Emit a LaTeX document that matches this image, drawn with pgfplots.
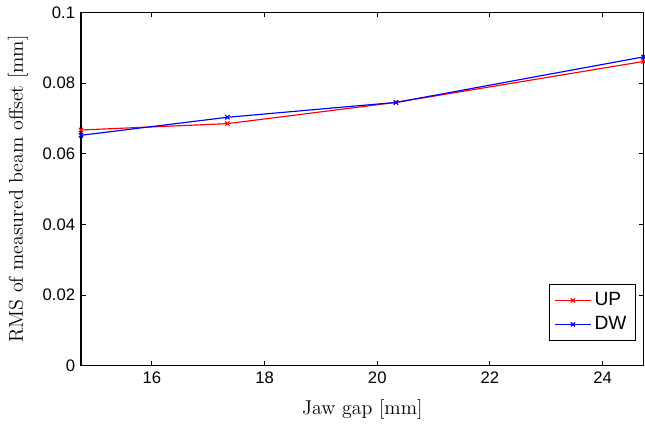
\documentclass[border=0pt]{standalone}
\usepackage{fontspec}
\usepackage{pgfplots}
\pgfplotsset{compat=1.18}
\newfontfamily\arial{Liberation Sans}
\begin{document}
\begin{tikzpicture}
\begin{axis}[
  scale only axis,
  width=337.6pt, height=212pt,
  xmin=14.74, xmax=24.73,
  ymin=0, ymax=0.1,
  xtick={16,18,20,22,24},
  ytick={0,0.02,0.04,0.06,0.08,0.1},
  scaled y ticks=false,
  yticklabel style={/pgf/number format/fixed,/pgf/number format/precision=2},
  /pgf/number format/assume math mode=true,
  tick label style={font=\fontsize{10}{12}\selectfont\arial},
  tick align=inside,
  major tick length=3pt,
  axis line style={line width=0.8pt},
  every tick/.style={line width=0.6pt, black},
  xlabel={Jaw gap [mm]},
  ylabel={RMS of measured beam offset [mm]},
  label style={font=\fontsize{12}{14}\selectfont},
  xlabel style={yshift=-3pt},
  ylabel style={yshift=2pt},
  legend style={at={(0.985,0.07)}, anchor=south east, font=\fontsize{11.5}{13.5}\selectfont\arial, draw=black, inner sep=3pt, row sep=1pt},
  legend cell align=left,
  legend image code/.code={\draw[mark repeat=2,mark phase=2,#1] plot coordinates {(0cm,0cm) (0.375cm,0cm) (0.75cm,0cm)};},
]
\addplot[red, line width=0.7pt, mark=x, mark size=1.8pt, mark options={solid, line width=0.7pt}] coordinates {
  (14.74,0.0667) (17.34,0.0685) (20.33,0.0745) (24.73,0.0861)
};
\addlegendentry{UP}
\addplot[blue, line width=0.7pt, mark=x, mark size=1.8pt, mark options={solid, line width=0.7pt}] coordinates {
  (14.74,0.0652) (17.34,0.0703) (20.33,0.0745) (24.73,0.0874)
};
\addlegendentry{DW}
\coordinate (bl) at (rel axis cs:0,0);
\coordinate (tr) at (rel axis cs:1,1);
\end{axis}
\pgfresetboundingbox
\path ([shift={(-48.6pt,-38pt)}]bl) rectangle ([shift={(0.8pt,7.4pt)}]tr);
\end{tikzpicture}
\end{document}
